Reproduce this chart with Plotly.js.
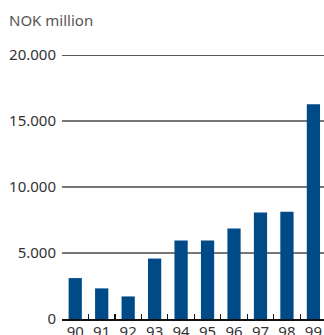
<!DOCTYPE html>
<html>
<head>
<meta charset="utf-8">
<script src="https://cdn.plot.ly/plotly-3.0.1.min.js"></script>
<style>html,body{margin:0;padding:0;background:#fff;}#chart{width:324px;height:335px;}</style>
</head>
<body>
<div id="chart"></div>
<script>
const years = ['90','91','92','93','94','95','96','97','98','99'];
const values = [3100, 2320, 1710, 4580, 5940, 5940, 6850, 8060, 8130, 16270];
const yTicks = [0, 5000, 10000, 15000, 20000];
const unitLabel = 'NOK million';

const trace = {
  type: 'bar',
  x: years,
  y: values,
  marker: {color: '#004a88'},
  hoverinfo: 'skip'
};

const layout = {
  width: 324,
  height: 335,
  margin: {l: 62, r: 0, t: 55, b: 16, pad: 0},
  paper_bgcolor: '#fff',
  plot_bgcolor: '#fff',
  separators: ',.',
  bargap: 0.5,
  showlegend: false,
  font: {family: 'Noto Sans, Open Sans, sans-serif', size: 15, color: '#333'},
  title: {
    text: unitLabel,
    font: {family: 'Noto Sans, Open Sans, sans-serif', size: 15, color: '#555'},
    xref: 'container', yref: 'container',
    x: 9/324, xanchor: 'left',
    y: 1 - 21/335, yanchor: 'middle'
  },
  shapes: [{
    type: 'line', xref: 'paper', yref: 'y',
    x0: 0, x1: 1, y0: 20000, y1: 20000,
    line: {color: '#222', width: 1.5}
  }],
  xaxis: {
    type: 'category',
    range: [-0.5, 9.4],
    showline: true,
    linecolor: '#111',
    linewidth: 1.5,
    ticks: 'inside',
    tickson: 'boundaries',
    ticklen: 5,
    tickwidth: 1.2,
    tickcolor: '#111',
    tickangle: 0,
    ticklabelstandoff: -2,
    showgrid: false,
    zeroline: false,
    tickfont: {size: 15, color: '#333'},
    fixedrange: true
  },
  yaxis: {
    range: [0, 20000],
    tickvals: yTicks,
    tickformat: ',d',
    showgrid: true,
    gridcolor: '#777',
    gridwidth: 1.5,
    zeroline: false,
    showline: false,
    ticks: '',
    ticklabelstandoff: 5,
    tickfont: {size: 15, color: '#333'},
    fixedrange: true
  }
};

Plotly.newPlot('chart', [trace], layout, {displayModeBar: false, staticPlot: true});
</script>
</body>
</html>
